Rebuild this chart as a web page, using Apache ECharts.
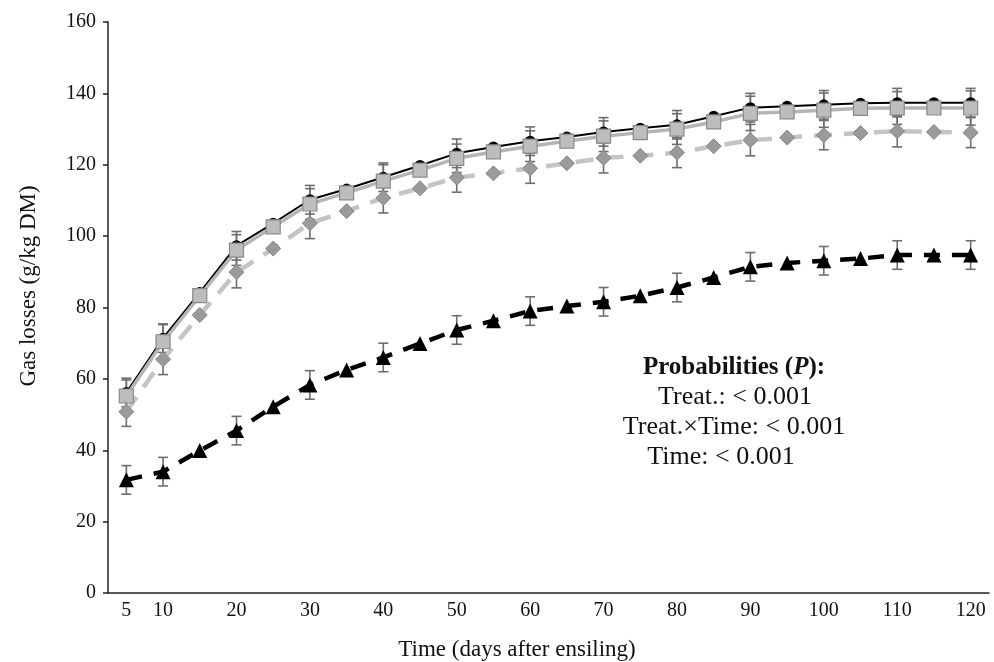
<!DOCTYPE html>
<html><head><meta charset="utf-8">
<script src="https://cdn.jsdelivr.net/npm/echarts@6/dist/echarts.min.js"></script>
<style>html,body{margin:0;padding:0;background:#fff}#c{width:994px;height:662px}</style>
</head><body><div id="c"></div>
<script>
const days = [5,10,15,20,25,30,35,40,45,50,55,60,65,70,75,80,85,90,95,100,105,110,115,120];
const blackLine = [56.2,71.4,84.2,97.3,103.6,110.2,113.2,116.5,119.8,123.2,125,126.6,127.8,129.2,130.2,131.2,133.6,136,136.4,136.8,137.2,137.4,137.4,137.4];
const squares = [55.2,70.4,83.3,96.1,102.6,109,112.1,115.4,118.5,121.8,123.6,125.2,126.6,128,129,130,132,134.4,134.8,135.3,135.8,135.9,135.9,135.9];
const diamonds = [50.8,65.5,77.9,89.9,96.5,103.6,107,110.7,113.4,116.4,117.6,119,120.4,121.9,122.5,123.4,125.2,126.9,127.6,128.3,128.9,129.4,129.2,129];
const triangles = [31.7,34,39.9,45.5,52.2,58.3,62.5,66,69.9,73.7,76.3,79,80.4,81.6,83.3,85.6,88.4,91.4,92.5,93.1,93.7,94.7,94.7,94.7];
// standard errors (null = no bar drawn)
const errBlack = [4,4,null,4,null,4,null,4,null,4,null,4,null,4,null,4,null,4,null,4,null,4,null,4];
const errSquares = [4.5,4.8,null,4.3,null,4.3,null,4.6,null,4,null,4.3,null,4.3,null,4.3,null,4.8,null,4.8,null,4.6,null,4.8];
const errDiamonds = [4.1,4.3,null,4.4,null,4.3,null,4.2,null,4.1,null,4.2,null,4.2,null,4.2,null,4.4,null,4.1,null,4.4,null,4.2];
const errTriangles = [4,4,null,4,null,4,null,4,null,4,null,4,null,4,null,4,null,4,null,4,null,4,null,4];
const yTicks = [0,20,40,60,80,100,120,140,160];

const serif = '"Liberation Serif","Times New Roman",serif';
function errData(vals, errs){
  const out=[];
  vals.forEach((v,i)=>{ if(errs[i]!=null) out.push([i, v-errs[i], v+errs[i]]); });
  return out;
}
function errSeries(vals, errs, z){
  return {
    type:'custom', z:z, silent:true,
    renderItem:function(params, api){
      const i=api.value(0);
      const lo=api.coord([i, api.value(1)]);
      const hi=api.coord([i, api.value(2)]);
      const w=5;
      const st={stroke:'#6e6e6e', lineWidth:1.6, fill:null};
      return {type:'group', children:[
        {type:'line', shape:{x1:lo[0],y1:lo[1],x2:hi[0],y2:hi[1]}, style:st},
        {type:'line', shape:{x1:lo[0]-w,y1:lo[1],x2:lo[0]+w,y2:lo[1]}, style:st},
        {type:'line', shape:{x1:hi[0]-w,y1:hi[1],x2:hi[0]+w,y2:hi[1]}, style:st}
      ]};
    },
    encode:{x:0,y:[1,2]},
    data: errData(vals, errs)
  };
}
const chart = echarts.init(document.getElementById('c'));
chart.setOption({
  animation:false,
  backgroundColor:'#fff',
  grid:{left:108, right:5, top:22, bottom:69},
  xAxis:{
    type:'category', data:days.map(String), boundaryGap:true,
    axisLine:{lineStyle:{color:'#222', width:1.5}},
    axisTick:{interval:0, alignWithLabel:false, length:6, lineStyle:{color:'#222', width:1.5}},
    axisLabel:{interval:function(idx, val){return idx===0 || (+val)%10===0;}, fontFamily:serif, fontSize:20, color:'#111', margin:8},
    splitLine:{show:false}
  },
  yAxis:{
    type:'value', min:yTicks[0], max:yTicks[yTicks.length-1], interval:20,
    axisLine:{show:true, lineStyle:{color:'#222', width:1.5}},
    axisTick:{show:true, length:5, lineStyle:{color:'#222', width:1.5}},
    axisLabel:{fontFamily:serif, fontSize:20, color:'#111', margin:12},
    splitLine:{show:false}
  },
  series:[
    errSeries(triangles, errTriangles, 1),
    errSeries(diamonds, errDiamonds, 1),
    errSeries(blackLine, errBlack, 1),
    errSeries(squares, errSquares, 1),
    {type:'line', data:triangles, z:3, symbol:'triangle', symbolSize:15,
     itemStyle:{color:'#000'}, lineStyle:{color:'#000', width:4.5, type:[16,12]}},
    {type:'line', data:diamonds, z:4, symbol:'diamond', symbolSize:15,
     itemStyle:{color:'#9a9a9a', borderColor:'#888', borderWidth:1}, lineStyle:{color:'#c4c4c4', width:4.5, type:[18,12]}},
    {type:'line', data:blackLine, z:5, symbol:'circle', symbolSize:11,
     itemStyle:{color:'#000'}, lineStyle:{color:'#000', width:2}},
    {type:'line', data:squares, z:6, symbol:'rect', symbolSize:14,
     itemStyle:{color:'#bdbdbd', borderColor:'#8a8a8a', borderWidth:1.2}, lineStyle:{color:'#b5b5b5', width:3.5}}
  ],
  graphic:[
    {type:'text', x:517, y:650, style:{text:'Time (days after ensiling)', align:'center', verticalAlign:'middle', fontFamily:serif, fontSize:23, fill:'#111'}},
    {type:'text', x:29, y:286, rotation:Math.PI/2, style:{text:'Gas losses (g/kg DM)', align:'center', verticalAlign:'middle', fontFamily:serif, fontSize:23, fill:'#111'}},
    {type:'text', x:734, y:368, style:{text:'{b|Probabilities (}{bi|P}{b|):}', align:'center', verticalAlign:'middle', rich:{
      b:{fontFamily:serif, fontSize:25, fontWeight:'bold', fill:'#111'},
      bi:{fontFamily:serif, fontSize:25, fontWeight:'bold', fontStyle:'italic', fill:'#111'}}}},
    {type:'text', x:735, y:397, style:{text:'Treat.: < 0.001', align:'center', verticalAlign:'middle', fontFamily:serif, fontSize:26, fill:'#111'}},
    {type:'text', x:734, y:427, style:{text:'Treat.\u00d7Time: < 0.001', align:'center', verticalAlign:'middle', fontFamily:serif, fontSize:26, fill:'#111'}},
    {type:'text', x:721, y:457, style:{text:'Time: < 0.001', align:'center', verticalAlign:'middle', fontFamily:serif, fontSize:26, fill:'#111'}}
  ]
});
</script></body></html>
